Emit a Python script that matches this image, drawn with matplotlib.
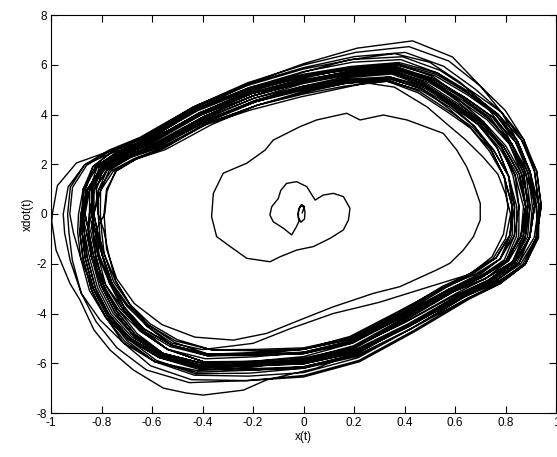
import numpy as np
import matplotlib
matplotlib.use("Agg")
import matplotlib.pyplot as plt

# Axis ticks and labels
x_ticks = [-1, -0.8, -0.6, -0.4, -0.2, 0, 0.2, 0.4, 0.6, 0.8, 1]
x_tick_labels = ["-1", "-0.8", "-0.6", "-0.4", "-0.2", "0", "0.2", "0.4", "0.6", "0.8", "1"]
y_ticks = [-8, -6, -4, -2, 0, 2, 4, 6, 8]
y_tick_labels = ["-8", "-6", "-4", "-2", "0", "2", "4", "6", "8"]

# Start-up of the trajectory: spiral out from the origin
start_x = [-0.005, 0.004, -0.008, -0.02, -0.02, -0.01, 0.004, 0.006, -0.002, -0.015,
           -0.022, -0.018, -0.03, -0.047, -0.08, -0.12, -0.133, -0.126, -0.1, -0.09,
           -0.067, -0.027, 0.013, 0.046, 0.078, 0.118, 0.158, 0.184, 0.178, 0.158,
           0.105, 0.039, -0.027, -0.093, -0.133, -0.225, -0.29, -0.344, -0.364, -0.357,
           -0.318, -0.225, -0.152, -0.12, -0.014, 0.052, 0.171, 0.224, 0.316, 0.41,
           0.5, 0.554, 0.607, 0.646, 0.673, 0.7, 0.7, 0.673, 0.633, 0.58,
           0.527, 0.382, 0.277, 0.118, -0.014, -0.146, -0.278, -0.43, -0.56, -0.67,
           -0.74, -0.78, -0.79, -0.78, -0.74, -0.66, -0.55, -0.4, -0.21, -0.014,
           0.25, 0.36, 0.49, 0.57, 0.64, 0.71, 0.77, 0.8, 0.82, 0.8,
           0.75, 0.65, 0.49, 0.3, 0.118, -0.05, -0.2, -0.4, -0.52, -0.62,
           -0.7, -0.77, -0.81, -0.82]
start_y = [0.05, 0.3, 0.38, 0.15, -0.15, -0.33, -0.2, 0.1, 0.32, 0.3,
           0.0, -0.3, -0.55, -0.84, -0.57, -0.31, -0.04, 0.29, 0.62, 0.95,
           1.23, 1.3, 1.1, 0.56, 0.76, 0.83, 0.7, 0.23, -0.24, -0.64,
           -0.98, -1.31, -1.45, -1.72, -1.92, -1.78, -1.31, -0.91, -0.11, 0.83,
           1.64, 2.04, 2.57, 2.97, 3.51, 3.78, 4.05, 3.78, 3.98, 3.78,
           3.44, 3.24, 2.57, 1.9, 1.23, 0.43, -0.24, -0.91, -1.45, -1.98,
           -2.25, -2.92, -3.19, -3.73, -4.26, -4.8, -5.07, -4.95, -4.45, -3.6,
           -2.6, -1.4, 0.0, 1.0, 1.75, 2.25, 2.65, 3.55, 4.18, 4.7,
           5.27, 5.1, 4.3, 3.6, 3.0, 2.3, 1.6, 0.8, 0.0, -1.0,
           -1.8, -2.45, -2.95, -3.55, -4.0, -4.6, -5.2, -5.45, -5.2, -4.5,
           -3.7, -2.7, -1.6, -0.6]

# Reference outline of the limit cycle (clockwise from the left extreme)
cycle_x = [-0.865, -0.855, -0.81, -0.72, -0.6, -0.4, -0.2, 0.0, 0.18, 0.36,
           0.5, 0.62, 0.72, 0.8, 0.855, 0.88, 0.87, 0.82, 0.72, 0.6,
           0.4, 0.2, 0.0, -0.2, -0.4, -0.55, -0.66, -0.74, -0.8, -0.84, -0.86]
cycle_y = [0.0, 1.0, 1.85, 2.4, 2.85, 3.95, 4.75, 5.3, 5.65, 5.8,
           5.35, 4.55, 3.75, 2.75, 1.6, 0.3, -0.9, -1.9, -2.6, -3.15,
           -4.3, -5.35, -5.85, -5.98, -6.0, -5.55, -4.8, -3.9, -2.9, -1.7, -0.7]

# Radial size of each lap relative to the outline, one value per outline point
laps_before = [
    [0.91, 0.91, 0.92, 0.92, 0.93, 0.93, 0.92, 0.91, 0.91, 0.92, 0.93, 0.94, 0.94, 0.93, 0.93, 0.94,
     0.94, 0.93, 0.92, 0.92, 0.93, 0.93, 0.92, 0.91, 0.91, 0.92, 0.93, 0.93, 0.94, 0.94, 0.93],
    [0.93, 0.94, 0.95, 0.95, 0.96, 0.96, 0.95, 0.94, 0.94, 0.95, 0.96, 0.97, 0.97, 0.96, 0.95, 0.95,
     0.96, 0.97, 0.97, 0.96, 0.95, 0.94, 0.93, 0.93, 0.94, 0.95, 0.96, 0.96, 0.95, 0.95, 0.96],
    [0.97, 0.98, 0.99, 1.00, 1.01, 1.02, 1.02, 1.01, 1.00, 0.99, 0.99, 1.00, 1.01, 1.02, 1.02, 1.01,
     1.00, 0.99, 0.98, 0.98, 0.99, 1.00, 1.01, 1.02, 1.03, 1.03, 1.02, 1.01, 1.00, 0.99, 0.99],
    [1.00, 1.01, 1.02, 1.03, 1.04, 1.05, 1.05, 1.04, 1.03, 1.03, 1.04, 1.05, 1.06, 1.06, 1.05, 1.04,
     1.03, 1.03, 1.04, 1.05, 1.05, 1.04, 1.03, 1.02, 1.02, 1.03, 1.04, 1.04, 1.03, 1.02, 1.01],
    [1.00, 0.99, 0.98, 0.97, 0.96, 0.95, 0.95, 0.96, 0.97, 0.97, 0.96, 0.95, 0.94, 0.94, 0.95, 0.96,
     0.97, 0.98, 0.98, 0.97, 0.96, 0.95, 0.95, 0.96, 0.97, 0.98, 0.98, 0.97, 0.96, 0.95, 0.95],
    [0.96, 0.98, 1.00, 1.02, 1.04, 1.06, 1.07, 1.08, 1.08, 1.07, 1.06, 1.06, 1.07, 1.08, 1.08, 1.07,
     1.06, 1.05, 1.05, 1.06, 1.07, 1.08, 1.09, 1.09, 1.08, 1.07, 1.06, 1.05, 1.04, 1.03, 1.02],
    [1.01, 1.00, 0.99, 0.98, 0.98, 0.99, 1.00, 1.00, 0.99, 0.98, 0.97, 0.97, 0.98, 0.99, 1.00, 1.00,
     0.99, 0.98, 0.98, 0.99, 1.00, 1.01, 1.01, 1.00, 0.99, 0.98, 0.98, 0.99, 1.00, 1.00, 0.99],
    [0.98, 0.97, 0.96, 0.95, 0.94, 0.93, 0.92, 0.92, 0.93, 0.94, 0.94, 0.93, 0.92, 0.92, 0.93, 0.94,
     0.95, 0.95, 0.94, 0.93, 0.92, 0.92, 0.93, 0.94, 0.95, 0.95, 0.94, 0.93, 0.93, 0.94, 0.95],
    [0.96, 0.97, 0.99, 1.01, 1.02, 1.03, 1.03, 1.02, 1.01, 1.01, 1.02, 1.03, 1.04, 1.03, 1.02, 1.01,
     1.01, 1.02, 1.03, 1.04, 1.04, 1.03, 1.02, 1.01, 1.01, 1.02, 1.03, 1.03, 1.02, 1.01, 1.01],
    [1.01, 1.02, 1.03, 1.05, 1.07, 1.09, 1.10, 1.11, 1.12, 1.12, 1.11, 1.10, 1.09, 1.08, 1.07, 1.06,
     1.06, 1.07, 1.08, 1.09, 1.10, 1.11, 1.12, 1.12, 1.11, 1.10, 1.08, 1.06, 1.05, 1.04, 1.03],
    [1.02, 1.00, 0.99, 0.98, 0.97, 0.96, 0.96, 0.97, 0.98, 0.98, 0.97, 0.96, 0.96, 0.97, 0.98, 0.99,
     0.99, 0.98, 0.97, 0.96, 0.96, 0.97, 0.98, 0.99, 0.99, 0.98, 0.97, 0.96, 0.96, 0.97, 0.97],
    [0.98, 0.99, 1.01, 1.03, 1.05, 1.06, 1.06, 1.05, 1.04, 1.04, 1.05, 1.06, 1.06, 1.05, 1.04, 1.03,
     1.03, 1.04, 1.05, 1.06, 1.07, 1.07, 1.06, 1.05, 1.04, 1.04, 1.05, 1.06, 1.06, 1.05, 1.04],
    [1.03, 1.02, 1.01, 1.00, 0.99, 0.99, 1.00, 1.01, 1.02, 1.01, 1.00, 0.99, 0.98, 0.98, 0.99, 1.00,
     1.01, 1.01, 1.00, 0.99, 0.99, 1.00, 1.01, 1.02, 1.02, 1.01, 1.00, 0.99, 0.99, 1.00, 1.00],
]

# The single widest excursion of the trajectory
wide_x = [-0.88, -0.87, -0.82, -0.72, -0.6, -0.4, -0.2, 0.0, 0.18, 0.36,
          0.5, 0.62, 0.72, 0.8, 0.87, 0.92, 0.93, 0.88, 0.76, 0.62,
          0.42, 0.2, 0.05, -0.146, -0.238, -0.397, -0.463, -0.555, -0.674, -0.766,
          -0.83, -0.885, -0.925, -0.98, -0.997]
wide_y = [0.0, 1.0, 1.95, 2.55, 3.0, 4.1, 5.0, 5.7, 6.2, 6.45,
          6.1, 5.3, 4.4, 3.3, 1.9, 0.4, -0.9, -2.0, -2.8, -3.4,
          -4.5, -5.6, -6.2, -6.67, -7.08, -7.28, -7.2, -7.0, -6.27, -5.47,
          -4.66, -3.46, -2.79, -1.45, -0.3]

laps_after = [
    [1.15, 1.14, 1.11, 1.06, 1.03, 1.02, 1.02, 1.03, 1.04, 1.04, 1.03, 1.02, 1.02, 1.03, 1.04, 1.04,
     1.03, 1.02, 1.02, 1.03, 1.04, 1.05, 1.06, 1.07, 1.07, 1.06, 1.05, 1.04, 1.04, 1.05, 1.06],
    [1.07, 1.07, 1.06, 1.06, 1.07, 1.08, 1.09, 1.10, 1.10, 1.09, 1.08, 1.08, 1.09, 1.09, 1.08, 1.07,
     1.06, 1.06, 1.07, 1.08, 1.09, 1.10, 1.11, 1.12, 1.13, 1.13, 1.12, 1.11, 1.10, 1.09, 1.08],
    [1.08, 1.08, 1.07, 1.07, 1.08, 1.09, 1.11, 1.13, 1.15, 1.16, 1.15, 1.13, 1.11, 1.09, 1.07, 1.06,
     1.05, 1.04, 1.03, 1.03, 1.04, 1.05, 1.05, 1.04, 1.03, 1.02, 1.01, 1.00, 0.99, 0.98, 0.97],
    [0.96, 0.95, 0.94, 0.93, 0.93, 0.94, 0.95, 0.95, 0.94, 0.93, 0.92, 0.92, 0.93, 0.94, 0.95, 0.95,
     0.94, 0.93, 0.93, 0.94, 0.95, 0.96, 0.96, 0.95, 0.94, 0.93, 0.93, 0.94, 0.95, 0.95, 0.94],
    [0.94, 0.95, 0.96, 0.97, 0.98, 0.99, 1.00, 1.01, 1.01, 1.00, 1.00, 1.01, 1.02, 1.03, 1.03, 1.02,
     1.01, 1.01, 1.02, 1.03, 1.03, 1.02, 1.01, 1.00, 1.00, 1.01, 1.02, 1.02, 1.01, 1.00, 0.99],
    [0.98, 0.97, 0.96, 0.96, 0.97, 0.98, 0.98, 0.97, 0.96, 0.95, 0.95, 0.96, 0.97, 0.98, 0.98, 0.97,
     0.96, 0.95, 0.95, 0.96, 0.97, 0.97, 0.96, 0.95, 0.95, 0.96, 0.97, 0.98, 0.98, 0.97, 0.96],
    [0.97, 0.98, 0.99, 1.01, 1.03, 1.06, 1.10, 1.14, 1.18, 1.20, 1.18, 1.13, 1.09, 1.06, 1.05, 1.06,
     1.07, 1.07, 1.06, 1.05, 1.04, 1.03, 1.02, 1.02, 1.03, 1.04, 1.05, 1.05, 1.04, 1.03, 1.02],
    [1.01, 1.00, 0.99, 0.99, 1.00, 1.01, 1.02, 1.01, 1.00, 0.99, 0.98, 0.98, 0.99, 1.00, 1.01, 1.02,
     1.02, 1.01, 1.00, 0.99, 0.99, 1.00, 1.01, 1.03, 1.05, 1.07, 1.08, 1.09, 1.10, 1.10, 1.10],
    [1.10, 1.09, 1.07, 1.04, 1.02, 1.01, 1.00, 1.00, 1.01, 1.02, 1.01, 1.00, 0.99, 0.98, 0.97, 0.97,
     0.98, 0.99, 1.00, 1.01, 1.01, 1.00, 0.99, 0.99, 1.00, 1.01, 1.01, 1.00, 0.99, 0.98, 0.98],
    [0.96, 0.94, 0.93, 0.92, 0.91, 0.91, 0.92, 0.93, 0.93, 0.92, 0.91, 0.91, 0.92, 0.93, 0.93, 0.92,
     0.91, 0.91, 0.92, 0.93, 0.94, 0.94, 0.93, 0.92, 0.91, 0.91, 0.92, 0.93, 0.93, 0.92, 0.92],
    [0.94, 0.96, 0.98, 1.00, 1.02, 1.03, 1.04, 1.04, 1.03, 1.02, 1.02, 1.03, 1.04, 1.05, 1.05, 1.04,
     1.03, 1.02, 1.02, 1.03, 1.04, 1.04, 1.03, 1.02, 1.02, 1.03, 1.04, 1.04, 1.03, 1.02, 1.02],
    [1.01, 1.00, 0.99, 0.98, 0.97, 0.97, 0.98, 0.99, 0.99, 0.98, 0.97, 0.97, 0.98, 0.99, 1.00, 1.00,
     0.99, 0.98, 0.97, 0.97, 0.98, 0.99, 1.00, 1.00, 0.99, 0.98, 0.97, 0.97, 0.98, 0.99, 0.99],
    [1.00, 1.01, 1.03, 1.05, 1.06, 1.07, 1.07, 1.06, 1.05, 1.05, 1.06, 1.07, 1.07, 1.06, 1.05, 1.05,
     1.06, 1.07, 1.08, 1.08, 1.07, 1.06, 1.05, 1.05, 1.06, 1.07, 1.07, 1.06, 1.05, 1.04, 1.03],
    [1.01, 0.99, 0.97, 0.96, 0.95, 0.95, 0.96, 0.96, 0.95, 0.94, 0.94, 0.95, 0.96, 0.96, 0.95, 0.94,
     0.94, 0.95, 0.96, 0.97, 0.97, 0.96, 0.95, 0.94, 0.94, 0.95, 0.96, 0.96, 0.95, 0.95, 0.96],
    [0.97, 0.98, 0.99, 1.00, 1.01, 1.02, 1.02, 1.01, 1.00, 1.00, 1.01, 1.02, 1.03, 1.02, 1.01, 1.00,
     1.00, 1.01, 1.02, 1.02, 1.01, 1.00, 1.00, 1.01, 1.02, 1.03, 1.02, 1.01, 1.00, 1.00, 1.00],
]


def laps_to_xy(laps):
    cx = np.asarray(cycle_x)
    cy = np.asarray(cycle_y)
    xs, ys = [], []
    for lap in laps:
        f = np.asarray(lap)
        xs.append(cx * f)
        ys.append(cy * f)
    return np.concatenate(xs), np.concatenate(ys)


bx1, by1 = laps_to_xy(laps_before)
bx2, by2 = laps_to_xy(laps_after)
traj_x = np.concatenate([start_x, bx1, wide_x, bx2])
traj_y = np.concatenate([start_y, by1, wide_y, by2])

plt.rcParams["font.family"] = ["Liberation Sans", "DejaVu Sans"]
plt.rcParams["axes.unicode_minus"] = False

fig = plt.figure(figsize=(5.57, 4.57), dpi=100)
fig.patch.set_facecolor("white")
ax = fig.add_axes([51 / 557, 44 / 457, 505 / 557, 398 / 457])

ax.plot(traj_x, traj_y, color="black", linewidth=1.0)

ax.set_xlim(-1, 1)
ax.set_ylim(-8, 8)
ax.set_xticks(x_ticks)
ax.set_xticklabels(x_tick_labels)
ax.set_yticks(y_ticks)
ax.set_yticklabels(y_tick_labels)
ax.tick_params(direction="in", length=5, width=0.8, top=True, right=True,
               labelsize=8.5, pad=3, colors="black")
for s in ax.spines.values():
    s.set_linewidth(0.8)
ax.set_xlabel("x(t)", fontsize=8.5, labelpad=1)
ax.set_ylabel("xdot(t)", fontsize=8.5, labelpad=2)

fig.savefig("out.png", dpi=100, facecolor="white")
